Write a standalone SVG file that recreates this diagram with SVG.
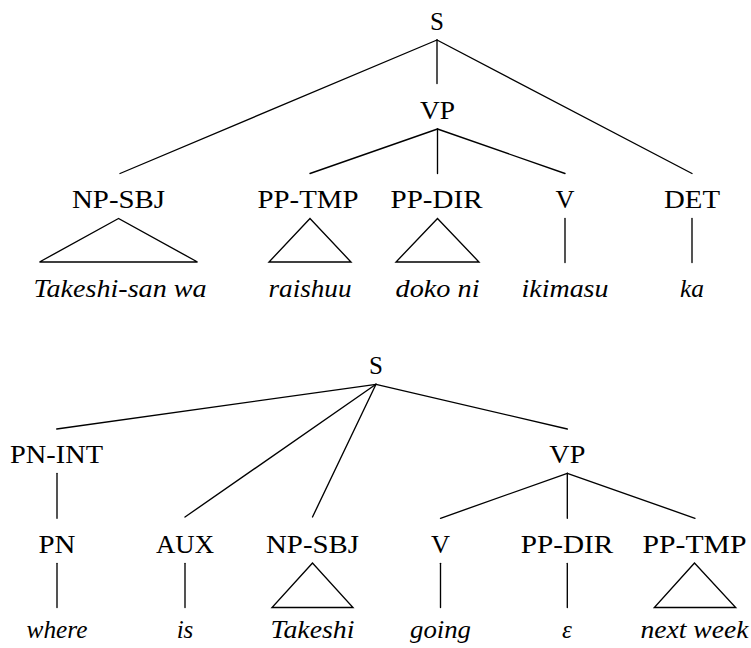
<svg xmlns="http://www.w3.org/2000/svg" width="751" height="648" viewBox="0 0 751 648">
  <style>
    .lbl { font-family: "Liberation Serif", "Times New Roman", serif; font-size: 25px; fill: #000; text-anchor: middle; }
    .leaf { font-family: "Liberation Serif", "Times New Roman", serif; font-size: 25px; font-style: italic; fill: #000; text-anchor: middle; }
    .edge { stroke: #000; stroke-width: 1.35; fill: none; stroke-linecap: round; }
  </style>
  <rect width="751" height="648" fill="#fff"/>

  <!-- Tree 1: Japanese sentence -->
  <g id="connectors-top">
    <line class="edge" x1="437" y1="40" x2="120" y2="173.5"/>
    <line class="edge" x1="437" y1="40" x2="437" y2="83.5"/>
    <line class="edge" x1="437" y1="40" x2="692" y2="173.5"/>
    <line class="edge" x1="437.5" y1="129" x2="310" y2="173.5"/>
    <line class="edge" x1="437.5" y1="129" x2="437.5" y2="173.5"/>
    <line class="edge" x1="437.5" y1="129" x2="565" y2="173.5"/>
    <polygon class="edge" points="118.5,218.5 39.5,262 197.5,262"/>
    <polygon class="edge" points="310,218.5 269,262 351,262"/>
    <polygon class="edge" points="437.5,218.5 396,262 479,262"/>
    <line class="edge" x1="565" y1="218.5" x2="565" y2="262.5"/>
    <line class="edge" x1="692" y1="218.5" x2="692" y2="262.5"/>
  </g>

  <g id="t1-S"><text class="lbl" x="437" y="29.5">S</text></g>
  <g id="t1-VP"><text class="lbl" x="437.5" y="118.5" textLength="35" lengthAdjust="spacingAndGlyphs">VP</text></g>
  <g id="t1-NP-SBJ"><text class="lbl" x="118.5" y="207.5" textLength="93" lengthAdjust="spacingAndGlyphs">NP-SBJ</text></g>
  <g id="t1-PP-TMP"><text class="lbl" x="308" y="207.5" textLength="101" lengthAdjust="spacingAndGlyphs">PP-TMP</text></g>
  <g id="t1-PP-DIR"><text class="lbl" x="436.5" y="207.5" textLength="92" lengthAdjust="spacingAndGlyphs">PP-DIR</text></g>
  <g id="t1-V"><text class="lbl" x="565" y="207.5" textLength="19" lengthAdjust="spacingAndGlyphs">V</text></g>
  <g id="t1-DET"><text class="lbl" x="692" y="207.5" textLength="56" lengthAdjust="spacingAndGlyphs">DET</text></g>

  <g id="t1-leaf-takeshi"><text class="leaf" x="120" y="297" textLength="173" lengthAdjust="spacingAndGlyphs">Takeshi-san wa</text></g>
  <g id="t1-leaf-raishuu"><text class="leaf" x="310" y="297" textLength="83" lengthAdjust="spacingAndGlyphs">raishuu</text></g>
  <g id="t1-leaf-dokoni"><text class="leaf" x="437.5" y="297" textLength="84" lengthAdjust="spacingAndGlyphs">doko ni</text></g>
  <g id="t1-leaf-ikimasu"><text class="leaf" x="565" y="297" textLength="87" lengthAdjust="spacingAndGlyphs">ikimasu</text></g>
  <g id="t1-leaf-ka"><text class="leaf" x="692" y="297" textLength="24" lengthAdjust="spacingAndGlyphs">ka</text></g>

  <!-- Tree 2: English sentence -->
  <g id="connectors-bottom">
    <line class="edge" x1="376" y1="384.3" x2="56.7" y2="429"/>
    <line class="edge" x1="376" y1="384.3" x2="185" y2="517"/>
    <line class="edge" x1="376" y1="384.3" x2="312.5" y2="517"/>
    <line class="edge" x1="376" y1="384.3" x2="567.3" y2="429"/>
    <line class="edge" x1="57" y1="473.3" x2="57" y2="518.3"/>
    <line class="edge" x1="567.3" y1="473.3" x2="440.5" y2="518.3"/>
    <line class="edge" x1="567.3" y1="473.3" x2="567.3" y2="518.3"/>
    <line class="edge" x1="567.3" y1="473.3" x2="695" y2="518.3"/>
    <line class="edge" x1="57" y1="563.3" x2="57" y2="607.5"/>
    <line class="edge" x1="185" y1="563.3" x2="185" y2="607.5"/>
    <polygon class="edge" points="312.5,563 272,607.5 353,607.5"/>
    <line class="edge" x1="440.5" y1="563.3" x2="440.5" y2="607.5"/>
    <line class="edge" x1="567.3" y1="563.3" x2="567.3" y2="607.5"/>
    <polygon class="edge" points="694.5,563 654.3,607.5 735.7,607.5"/>
  </g>

  <g id="t2-S"><text class="lbl" x="376" y="374">S</text></g>
  <g id="t2-PN-INT"><text class="lbl" x="56.5" y="463.3" textLength="93" lengthAdjust="spacingAndGlyphs">PN-INT</text></g>
  <g id="t2-VP"><text class="lbl" x="567.3" y="463.3" textLength="36" lengthAdjust="spacingAndGlyphs">VP</text></g>
  <g id="t2-PN"><text class="lbl" x="57" y="552.5" textLength="37" lengthAdjust="spacingAndGlyphs">PN</text></g>
  <g id="t2-AUX"><text class="lbl" x="185" y="552.5" textLength="58" lengthAdjust="spacingAndGlyphs">AUX</text></g>
  <g id="t2-NP-SBJ"><text class="lbl" x="312.5" y="552.5" textLength="93" lengthAdjust="spacingAndGlyphs">NP-SBJ</text></g>
  <g id="t2-V"><text class="lbl" x="440.5" y="552.5" textLength="19" lengthAdjust="spacingAndGlyphs">V</text></g>
  <g id="t2-PP-DIR"><text class="lbl" x="567" y="552.5" textLength="92.5" lengthAdjust="spacingAndGlyphs">PP-DIR</text></g>
  <g id="t2-PP-TMP"><text class="lbl" x="694.5" y="552.5" textLength="104" lengthAdjust="spacingAndGlyphs">PP-TMP</text></g>

  <g id="t2-leaf-where"><text class="leaf" x="57" y="637.5" textLength="61" lengthAdjust="spacingAndGlyphs">where</text></g>
  <g id="t2-leaf-is"><text class="leaf" x="185" y="637.5">is</text></g>
  <g id="t2-leaf-takeshi"><text class="leaf" x="312.5" y="637.5" textLength="84" lengthAdjust="spacingAndGlyphs">Takeshi</text></g>
  <g id="t2-leaf-going"><text class="leaf" x="440.5" y="637.5" textLength="61" lengthAdjust="spacingAndGlyphs">going</text></g>
  <g id="t2-leaf-eps"><text class="leaf" x="567" y="637.5">ε</text></g>
  <g id="t2-leaf-nextweek"><text class="leaf" x="694.5" y="637.5" textLength="108" lengthAdjust="spacingAndGlyphs">next week</text></g>
</svg>
